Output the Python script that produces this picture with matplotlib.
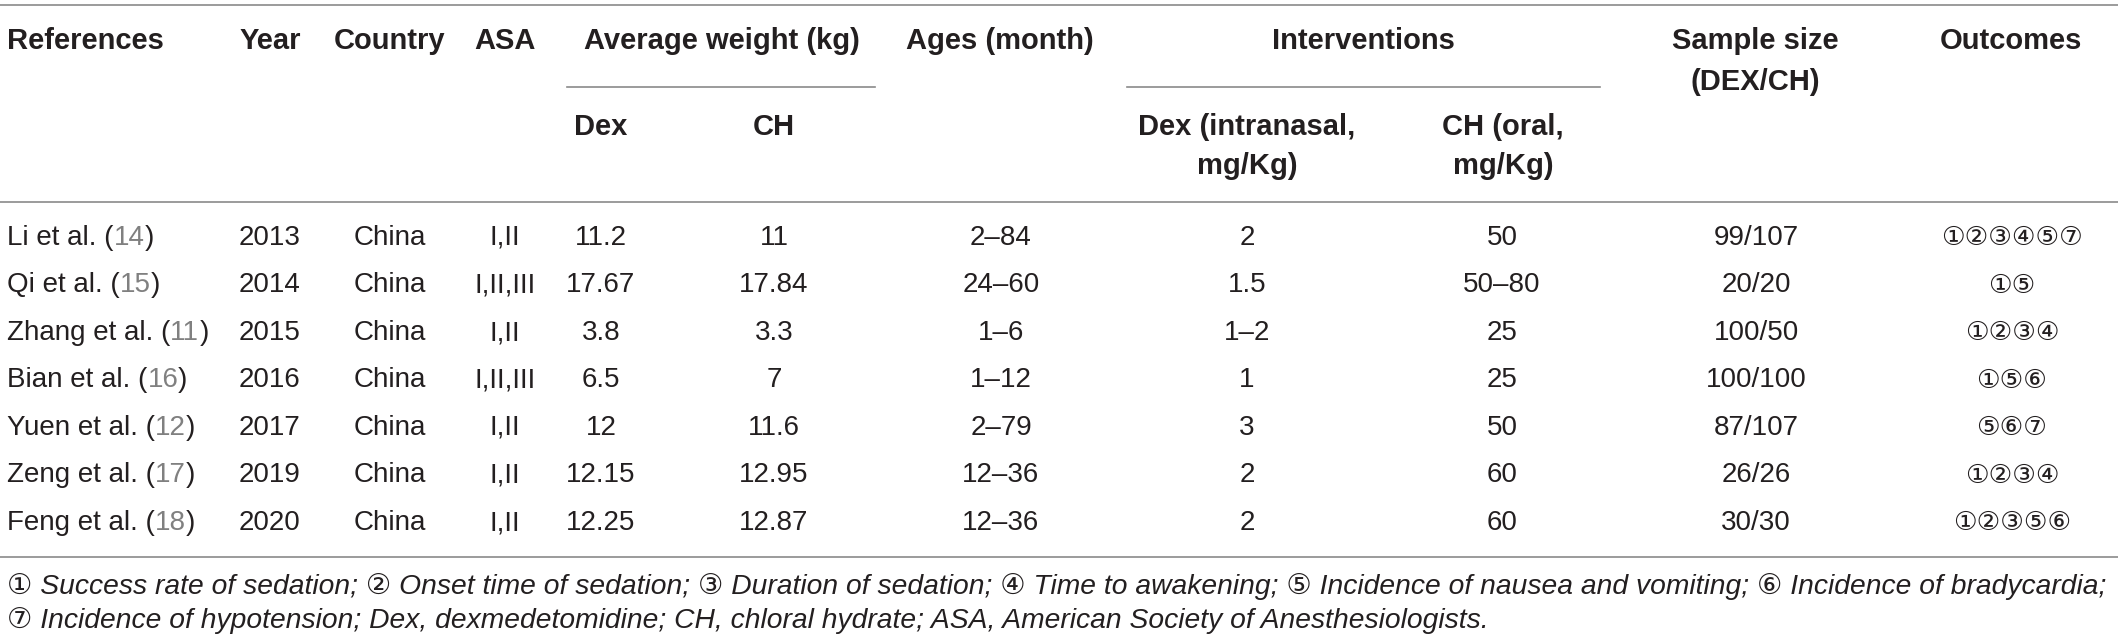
import matplotlib.pyplot as plt
from matplotlib.lines import Line2D

plt.rcParams['font.family'] = ['Liberation Sans', 'DejaVu Sans']

# table content
references = ['Li et al.', 'Qi et al.', 'Zhang et al.', 'Bian et al.',
              'Yuen et al.', 'Zeng et al.', 'Feng et al.']
ref_nums = ['14', '15', '11', '16', '12', '17', '18']
years = ['2013', '2014', '2015', '2016', '2017', '2019', '2020']
countries = ['China'] * 7
asa = ['I,II', 'I,II,III', 'I,II', 'I,II,III', 'I,II', 'I,II', 'I,II']
dex_weight = ['11.2', '17.67', '3.8', '6.5', '12', '12.15', '12.25']
ch_weight = ['11', '17.84', '3.3', '7', '11.6', '12.95', '12.87']
ages = ['2–84', '24–60', '1–6', '1–12', '2–79', '12–36', '12–36']
dex_dose = ['2', '1.5', '1–2', '1', '3', '2', '2']
ch_dose = ['50', '50–80', '25', '25', '50', '60', '60']
sample_size = ['99/107', '20/20', '100/50', '100/100', '87/107', '26/26', '30/30']
outcomes = ['①②③④⑤⑦', '①⑤', '①②③④', '①⑤⑥', '⑤⑥⑦', '①②③④', '①②③⑤⑥']

footnote = ['① Success rate of sedation; ② Onset time of sedation; ③ Duration of sedation; '
            '④ Time to awakening; ⑤ Incidence of nausea and vomiting; ⑥ Incidence of bradycardia;',
            '⑦ Incidence of hypotension; Dex, dexmedetomidine; CH, chloral hydrate; ASA, '
            'American Society of Anesthesiologists.']

W, H = 2118, 643
fig = plt.figure(figsize=(W / 100, H / 100), dpi=100)
fig.patch.set_facecolor('white')

FS = 20
HFS = 21
TXT = '#231f20'
CITE = '#808080'
RULE = '#8a8a8a'


def fx(x):
    return x / W


def fy(y):
    return 1 - y / H


def put(x, y, s, ha='center', **kw):
    kw.setdefault('fontsize', FS)
    kw.setdefault('color', TXT)
    return fig.text(fx(x), fy(y), s, ha=ha, va='center', **kw)


def rule(x0, x1, y, lw=1.2):
    fig.add_artist(Line2D([fx(x0), fx(x1)], [fy(y), fy(y)], color=RULE, lw=lw,
                          transform=fig.transFigure))


# rules
rule(0, W, 5)
rule(567, 875, 87)
rule(1127, 1600, 87)
rule(0, W, 202)
rule(0, W, 557)

# header
hb = dict(fontweight='bold', fontsize=HFS)
put(7, 41, 'References', ha='left', **hb)
put(270, 41, 'Year', **hb)
put(390, 41, 'Country', **hb)
put(505, 41, 'ASA', **hb)
put(722, 41, 'Average weight (kg)', **hb)
put(1000, 41, 'Ages (month)', **hb)
put(1363, 41, 'Interventions', **hb)
put(1755, 41, 'Sample size', **hb)
put(1755, 82, '(DEX/CH)', **hb)
put(2011, 41, 'Outcomes', **hb)
put(601, 127, 'Dex', **hb)
put(774, 127, 'CH', **hb)
put(1247, 127, 'Dex (intranasal,', **hb)
put(1247, 166, 'mg/Kg)', **hb)
put(1503, 127, 'CH (oral,', **hb)
put(1503, 166, 'mg/Kg)', **hb)

# body rows
y0, dy = 238, 47.5
fig.canvas.draw()
r = fig.canvas.get_renderer()
for i in range(len(references)):
    y = y0 + i * dy
    # reference name, then the citation number in grey, then ')'
    t = put(7, y, references[i] + ' (', ha='left')
    x1 = t.get_window_extent(r).x1
    t = put(x1, y, ref_nums[i], ha='left', color=CITE)
    x2 = t.get_window_extent(r).x1
    put(x2, y, ')', ha='left')

    put(270, y, years[i])
    put(390, y, countries[i])
    put(505, y, asa[i])
    put(601, y, dex_weight[i])
    put(774, y, ch_weight[i])
    put(1001, y, ages[i])
    put(1247, y, dex_dose[i])
    put(1502, y, ch_dose[i])
    put(1756, y, sample_size[i])
    put(2012, y, outcomes[i], fontsize=19)

# footnote, shrunk until the long line just fits the width
fs = 22
while True:
    t = put(7, 586, footnote[0], ha='left', fontstyle='italic', fontsize=fs)
    if t.get_window_extent(r).x1 <= 2109 or fs < 12:
        break
    t.remove()
    fs -= 0.1
put(7, 621, footnote[1], ha='left', fontstyle='italic', fontsize=fs)

fig.savefig('out.png', dpi=100)
